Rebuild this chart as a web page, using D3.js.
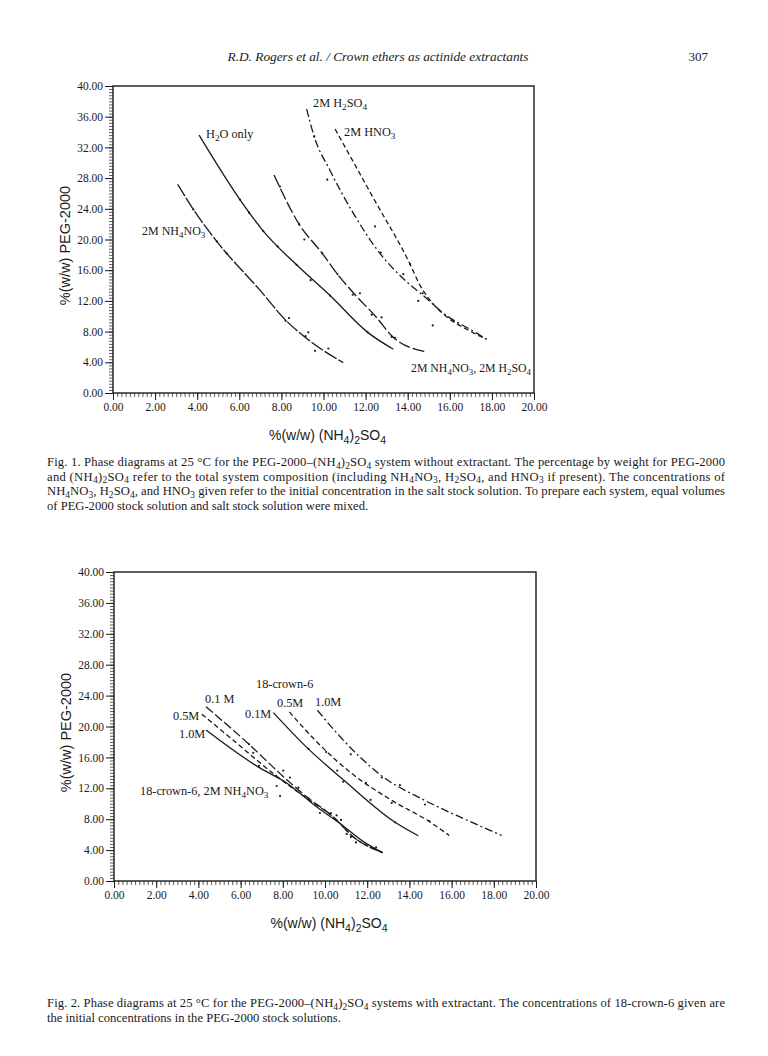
<!DOCTYPE html>
<html><head><meta charset="utf-8">
<script src="https://cdn.jsdelivr.net/npm/d3@7"></script>
<style>body{margin:0;background:#fff}svg{display:block}</style>
</head><body>
<svg id="page" width="768" height="1056"></svg>
<script>
// ---------- data ----------
const xTickValues = [0,2,4,6,8,10,12,14,16,18,20];
const xTickLabels = ["0.00","2.00","4.00","6.00","8.00","10.00","12.00","14.00","16.00","18.00","20.00"];
const yTickValues = [0,4,8,12,16,20,24,28,32,36,40];
const yTickLabels = ["0.00","4.00","8.00","12.00","16.00","20.00","24.00","28.00","32.00","36.00","40.00"];

// Fig. 1 curves  [%(NH4)2SO4, %PEG]
const f1NH4NO3 = [[3.07,27.2],[3.82,23.9],[4.93,19.75],[6.98,13.4],[8.2,9.5],[9.2,7.1],[10.94,3.95]];
const f1NH4NO3Pts = [[3.82,23.9],[4.93,19.75],[5.40,18.2],[8.2,9.4],[8.36,9.77],[9.15,7.4],[9.28,7.9],[9.6,5.5],[10.23,5.8]];
const f1H2O = [[4.09,33.6],[6.03,25.2],[7.14,21.1],[8.72,16.7],[10.31,12.7],[12.1,7.9],[13.32,5.7]];
const f1H2OPts = [[6.03,25.2],[6.46,23.5],[7.14,21.1],[7.82,19.1],[8.72,16.7],[9.39,14.7],[10.31,12.7],[12.1,7.9]];
const f1Mix = [[7.65,28.4],[8.84,22.0],[9.94,18.2],[10.66,15.5],[11.5,12.8],[12.5,9.9],[13.3,7.3],[14.82,5.4]];
const f1MixPts = [[7.93,26.9],[8.84,22.0],[9.09,20.0],[9.94,18.2],[10.66,15.5],[11.39,12.8],[11.73,13.0],[12.29,10.2],[12.76,9.85],[13.24,7.3],[13.4,7.2]];
const f1H2SO4 = [[9.2,37.0],[9.56,33.4],[10.31,29.0],[11.42,23.4],[12.68,18.2],[13.87,14.7],[14.82,12.5],[15.69,10.4],[17.28,7.8],[17.75,7.0]];
const f1H2SO4Pts = [[9.56,33.4],[10.18,27.8],[12.45,21.7],[12.72,18.3],[13.79,15.5],[14.71,13.0],[14.5,12.0],[15.19,8.8]];
const f1HNO3 = [[10.55,34.4],[12.37,25.4],[14.11,16.8],[14.58,14.06],[15.06,12.1],[15.85,9.94],[16.8,8.3],[17.75,7.0]];
const f1HNO3Pts = [[14.11,16.8]];

// Fig. 2 curves
const f2NH01 = [[4.36,22.55],[6.4,17.7],[7.87,13.9],[9.13,10.9],[10.39,8.3],[11.34,5.7],[12.73,3.67]];
const f2NH05 = [[4.16,21.6],[5.64,18.25],[7.55,13.9],[9.13,10.7],[10.39,8.3],[11.4,5.6],[12.73,3.67]];
const f2NH10 = [[4.36,19.55],[6.81,14.8],[8.23,12.6],[9.6,9.6],[10.71,7.45],[11.82,5.1],[12.73,3.67]];
const f2NHPts = [[6.4,17.7],[6.6,16.6],[6.87,14.9],[8.02,14.3],[8.34,13.4],[7.68,13.6],[7.71,12.3],[7.87,11.0],[8.74,12.1],[9.21,10.7],[9.76,8.8],[10.28,8.8],[10.55,8.5],[10.76,7.9],[11.03,6.1],[11.23,5.7],[11.47,5.0],[12.42,4.36]];
const f2C01 = [[7.55,21.8],[9.21,17.1],[10.87,13.1],[13.32,7.6],[14.42,5.86]];
const f2C01Pts = [[9.21,17.1],[10.58,14.3],[10.86,12.85],[12.16,10.5],[13.32,7.6]];
const f2C05 = [[8.31,21.9],[9.65,17.9],[11.23,14.0],[13.13,10.49],[14.94,7.7],[15.89,5.9]];
const f2C05Pts = [[10.05,16.7],[11.94,12.7],[13.16,10.1],[14.94,7.77]];
const f2C10 = [[9.64,22.1],[10.71,18.7],[12.69,13.6],[14.69,10.49],[16.71,7.9],[18.37,5.9]];
const f2C10Pts = [[11.22,16.4],[12.69,13.4],[13.55,12.4],[14.74,9.9]];

const headerText = "R.D. Rogers et al. / Crown ethers as actinide extractants";
const pageNumber = "307";
const cap1 = [
 "Fig. 1. Phase diagrams at 25 °C for the PEG-2000–(NH{4}){2}SO{4} system without extractant. The percentage by weight for PEG-2000",
 "and (NH{4}){2}SO{4} refer to the total system composition (including NH{4}NO{3}, H{2}SO{4}, and HNO{3} if present). The concentrations of",
 "NH{4}NO{3}, H{2}SO{4}, and HNO{3} given refer to the initial concentration in the salt stock solution. To prepare each system, equal volumes",
 "of PEG-2000 stock solution and salt stock solution were mixed."];
const cap2 = [
 "Fig. 2. Phase diagrams at 25 °C for the PEG-2000–(NH{4}){2}SO{4} systems with extractant. The concentrations of 18-crown-6 given are",
 "the initial concentrations in the PEG-2000 stock solutions."];

// ---------- drawing ----------
const svg = d3.select("#page");
const SERIF = "'Liberation Serif', 'DejaVu Serif', serif";
const SANS = "'Liberation Sans', Arial, sans-serif";
const INK = "#1a1a1a";

function rich(sel, str, size, subShift) {
  const parts = str.split(/(\{[^}]*\})/).filter(s => s.length);
  let shifted = false;
  parts.forEach(p => {
    if (p[0] === "{") {
      sel.append("tspan").attr("dy", shifted ? 0 : subShift).attr("font-size", size*0.75).text(p.slice(1,-1));
      shifted = true;
    } else {
      sel.append("tspan").attr("dy", shifted ? -subShift : 0).text(p);
      shifted = false;
    }
  });
}

svg.append("text").attr("x", 378).attr("y", 61).attr("text-anchor","middle")
  .attr("font-family", SERIF).attr("font-style","italic").attr("font-size", 13.3).attr("fill", INK).text(headerText);
svg.append("text").attr("x", 708).attr("y", 61).attr("text-anchor","end")
  .attr("font-family", SERIF).attr("font-size", 13).attr("fill", INK).text(pageNumber);

function drawChart(box, curves, pts, labels) {
  const x = d3.scaleLinear().domain([0,20]).range([box.x0, box.x1]);
  const y = d3.scaleLinear().domain([0,40]).range([box.y1, box.y0]);
  const g = svg.append("g");

  const xAxisMinor = d3.axisBottom(x).tickValues(d3.range(0,20.001,0.2)).tickSize(4).tickFormat("");
  const gxm = g.append("g").attr("transform",`translate(0,${box.y1})`).call(xAxisMinor);
  const yAxisMinor = d3.axisLeft(y).tickValues(d3.range(0,40.001,0.4)).tickSize(4).tickFormat("");
  const gym = g.append("g").attr("transform",`translate(${box.x0},0)`).call(yAxisMinor);
  [gxm,gym].forEach(a => { a.select(".domain").remove(); a.selectAll("line").attr("stroke", INK).attr("stroke-width",0.7); });

  const xAxis = d3.axisBottom(x).tickValues(xTickValues).tickSize(7).tickPadding(3)
     .tickFormat((d,i) => xTickLabels[i]);
  const gx = g.append("g").attr("transform",`translate(0,${box.y1})`).call(xAxis);
  const yAxis = d3.axisLeft(y).tickValues(yTickValues).tickSize(8).tickPadding(2)
     .tickFormat((d,i) => yTickLabels[i]);
  const gy = g.append("g").attr("transform",`translate(${box.x0},0)`).call(yAxis);
  [gx,gy].forEach(a => {
    a.select(".domain").remove();
    a.selectAll("line").attr("stroke", INK).attr("stroke-width",1);
    a.selectAll("text").attr("font-family", SERIF).attr("font-size", 11.5).attr("fill", INK);
  });

  g.append("rect").attr("x", box.x0).attr("y", box.y0).attr("width", box.x1-box.x0).attr("height", box.y1-box.y0)
    .attr("fill","none").attr("stroke", INK).attr("stroke-width", 1.4);

  const line = d3.line().x(d => x(d[0])).y(d => y(d[1])).curve(d3.curveMonotoneX);
  curves.forEach(c => {
    g.append("path").attr("d", line(c.data)).attr("fill","none").attr("stroke", INK)
     .attr("stroke-width", 1.3).attr("stroke-dasharray", c.dash || null);
  });
  g.append("g").selectAll("circle").data(pts).join("circle")
    .attr("cx", d => x(d[0])).attr("cy", d => y(d[1])).attr("r", 1.1).attr("fill", INK);

  labels.forEach(l => {
    const fs = l.size || 12.3;
    const t = g.append("text").attr("x", l.x).attr("y", l.y).attr("font-family", SERIF)
      .attr("font-size", fs).attr("fill", INK).attr("text-anchor", l.anchor || "start");
    rich(t, l.text, fs, 3.2);
  });

  const ty = g.append("text").attr("transform", `translate(${box.x0-43},${(box.y0+box.y1)/2+6}) rotate(-90)`)
    .attr("text-anchor","middle").attr("font-family", SANS).attr("font-size", 14.5).attr("fill", INK);
  ty.text("%(w/w) PEG-2000");
  const tx = g.append("text").attr("x", (box.x0+box.x1)/2 + 4).attr("y", box.y1+47)
    .attr("text-anchor","middle").attr("font-family", SANS).attr("font-size", 14).attr("fill", INK);
  rich(tx, "%(w/w) (NH{4}){2}SO{4}", 14, 4);
}

drawChart({x0:113, x1:534, y0:86, y1:393},
  [ {data:f1NH4NO3, dash:"14,2"}, {data:f1H2O}, {data:f1Mix, dash:"12,3"},
    {data:f1H2SO4, dash:"8,3,2,3"}, {data:f1HNO3, dash:"5,3"} ],
  [].concat(f1NH4NO3Pts, f1H2OPts, f1MixPts, f1H2SO4Pts, f1HNO3Pts),
  [ {x:313, y:107, text:"2M H{2}SO{4}"}, {x:344, y:136, text:"2M HNO{3}"},
    {x:206, y:138, text:"H{2}O only"}, {x:142, y:235, text:"2M NH{4}NO{3}", size:12},
    {x:411, y:372, text:"2M NH{4}NO{3}, 2M H{2}SO{4}", size:11.8} ]);

drawChart({x0:114, x1:536, y0:572, y1:881},
  [ {data:f2NH01, dash:"9,3"}, {data:f2NH05, dash:"5,3"}, {data:f2NH10},
    {data:f2C01}, {data:f2C05, dash:"5,3"}, {data:f2C10, dash:"8,3,2,3"} ],
  [].concat(f2NHPts, f2C01Pts, f2C05Pts, f2C10Pts),
  [ {x:256, y:688, text:"18-crown-6"}, {x:205, y:703, text:"0.1 M"},
    {x:173, y:720, text:"0.5M"}, {x:179, y:738, text:"1.0M"},
    {x:245, y:718, text:"0.1M"}, {x:277, y:707, text:"0.5M"}, {x:315, y:706, text:"1.0M"},
    {x:140, y:795, text:"18-crown-6, 2M NH{4}NO{3}"} ]);

function caption(lines, y0) {
  lines.forEach((s, i) => {
    const t = svg.append("text").attr("x", 47).attr("y", y0 + i*14.5)
      .attr("font-family", SERIF).attr("font-size", 12.6).attr("fill", INK);
    if (i < lines.length - 1) t.attr("textLength", 678).attr("lengthAdjust", "spacing");
    rich(t, s, 12.6, 2.8);
  });
}
caption(cap1, 466);
caption(cap2, 1007);
</script>
</body></html>
